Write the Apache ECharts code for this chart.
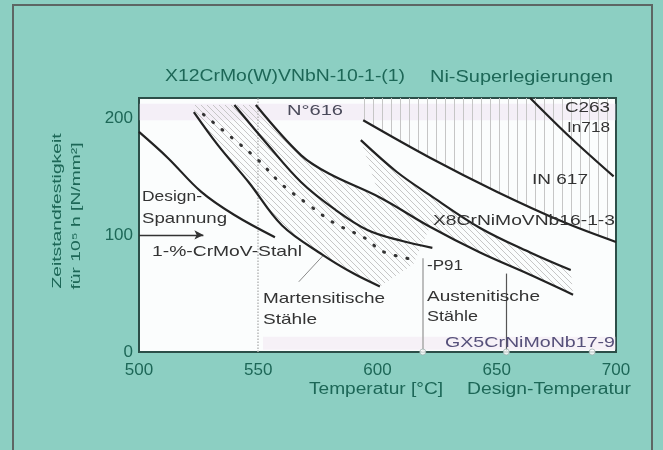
<!DOCTYPE html>
<html>
<head>
<meta charset="utf-8">
<script src="https://cdn.jsdelivr.net/npm/echarts@6/dist/echarts.min.js"></script>
<title>Zeitstandfestigkeit</title>
<style>
  html, body { margin: 0; padding: 0; background: #8ccfc2; }
  #main { width: 663px; height: 450px; }
</style>
</head>
<body>
<div id="main"></div>
<script type="text/javascript">
// Kurven [Temperatur °C, Zeitstandfestigkeit N/mm²]
var designSpannung = [[500, 188], [512, 166], [526, 137], [540, 117], [557, 98]];
var martUnten = [[523, 205], [533, 177], [546, 145], [560, 108], [577, 83], [590, 67], [601, 56]];
var p91 = [[527, 203], [539, 183], [550, 164], [560, 143], [571, 126], [582, 110], [595, 97], [602, 86], [615, 79]];
var martOben = [[540, 211], [554, 177], [568, 145], [582, 122], [596, 104], [610, 95], [623, 89]];
var nf616 = [[549, 211], [568, 168], [580, 152], [601, 132], [622, 107], [643, 85], [664, 66], [682, 49]];
var austOben = [[593, 181], [608, 154], [622, 134], [643, 106], [664, 85], [681, 70]];
var x8CrNi = [[594, 198], [622, 166], [650, 137], [678, 111], [700, 94]];
var c263 = [[664, 217], [681, 183], [699, 150]];

var designArrow = [[500, 100], [527, 100]];
var refLines = [550, 619, 654];
var refTops = [217, 80, 67];
var axisMarks = [619, 654, 690];
var leaderMart = [[567, 60], [577, 82]];

var xTicks = [500, 550, 600, 650, 700];
var yTicks = [0, 100, 200];
var yTop = 217;

var FONT = '"Liberation Sans", Arial, sans-serif';
var TEAL = '#1d6757';
var INK = '#333333';
var LINE = '#222222';

var mctx = document.createElement('canvas').getContext('2d');
function measure(s, size) {
  mctx.font = size + 'px ' + FONT;
  return mctx.measureText(s).width;
}
function label(s, x, y, size, color, width, rot) {
  var sx = width ? width / measure(s, size) : 1;
  return {
    type: 'text', x: x, y: y, rotation: rot || 0, scaleX: sx, z: 50, silent: true,
    style: { text: s, fill: color, font: size + 'px ' + FONT, align: rot ? 'center' : 'left', verticalAlign: 'middle' }
  };
}

function hatch(kind) {
  var c = document.createElement('canvas');
  var n = kind === 'v' ? 9 : 6;
  c.width = n; c.height = n;
  var g = c.getContext('2d');
  g.strokeStyle = '#c6c6c6';
  g.lineWidth = 1;
  g.beginPath();
  if (kind === 'v') {
    g.moveTo(4.5, 0); g.lineTo(4.5, n);
  } else {
    [-n, 0, n].forEach(function (k) { g.moveTo(k, 0); g.lineTo(k + n, n); });
  }
  g.stroke();
  return { image: c, repeat: 'repeat' };
}

function band(upper, lower, fill) {
  return {
    type: 'custom', silent: true, z: 1, clip: true,
    data: [0],
    renderItem: function (params, api) {
      var pts = upper.map(function (p) { return api.coord(p); })
        .concat(lower.slice().reverse().map(function (p) { return api.coord(p); }));
      return { type: 'polygon', shape: { points: pts }, style: { fill: fill } };
    }
  };
}

function curve(data, dotted) {
  return {
    type: 'line', data: data, smooth: 0.35, symbol: 'none', silent: true, z: 5,
    lineStyle: dotted
      ? { color: '#333', width: 3, type: [1, 11], cap: 'round' }
      : { color: LINE, width: 2.2 }
  };
}

var martBandUpper = [[523, 211], [549, 211]].concat(nf616.slice(1, 5));
var martBandLower = martUnten.concat([[615, 75]]);
var austBandLower = nf616.slice(3);
var niBandUpper = [[594, yTop], [700, yTop]];

var myChart = echarts.init(document.getElementById('main'));
myChart.setOption({
  backgroundColor: '#8ccfc2',
  animation: false,
  grid: {
    left: 139, right: 47, top: 98, bottom: 98, show: true,
    backgroundColor: '#fbfdfd', borderColor: '#2c4e48', borderWidth: 2
  },
  xAxis: {
    type: 'value', min: xTicks[0], max: xTicks[xTicks.length - 1], interval: 50,
    axisLine: { show: false }, axisTick: { show: false }, splitLine: { show: false },
    axisLabel: { color: TEAL, fontSize: 17, fontFamily: FONT, margin: 10 }
  },
  yAxis: {
    type: 'value', min: yTicks[0], max: yTop, interval: 100,
    axisLine: { show: false }, axisTick: { show: false }, splitLine: { show: false },
    axisLabel: {
      color: TEAL, fontSize: 17, fontFamily: FONT, margin: 6,
      formatter: function (v) { return yTicks.indexOf(v) >= 0 ? v : ''; }
    }
  },
  series: [
    // Hintergrundbänder
    {
      type: 'line', data: [], silent: true,
      markArea: {
        silent: true,
        itemStyle: { color: 'rgba(228,208,234,0.3)' },
        data: [
          [{ coord: [500, 198] }, { coord: [700, 212] }],
          [{ coord: [552, 2] }, { coord: [700, 13], itemStyle: { color: 'rgba(236,216,236,0.3)' } }]
        ]
      }
    },
    band(martBandUpper, martBandLower, hatch('d')),
    band(austOben, austBandLower, hatch('d')),
    band(niBandUpper, x8CrNi, hatch('v')),
    // Referenzlinien
    {
      type: 'line', data: [], silent: true,
      markLine: {
        silent: true, symbol: 'none', label: { show: false },
        data: [
          [{ coord: [refLines[0], 0], lineStyle: { color: '#b8b8b8', type: 'dotted', width: 1.5 } }, { coord: [refLines[0], refTops[0]] }],
          [{ coord: [refLines[1], 0], lineStyle: { color: '#a8a8a8', type: 'solid', width: 1.5 } }, { coord: [refLines[1], refTops[1]] }],
          [{ coord: [refLines[2], 0], lineStyle: { color: '#555', type: 'solid', width: 1.2 } }, { coord: [refLines[2], refTops[2]] }],
          [{ coord: leaderMart[0], lineStyle: { color: '#8a8a8a', type: 'solid', width: 1 } }, { coord: leaderMart[1] }]
        ]
      }
    },
    {
      type: 'line', data: [], silent: true,
      markLine: {
        silent: true, symbol: ['none', 'arrow'], symbolSize: [7, 9], label: { show: false },
        lineStyle: { color: '#333', type: 'solid', width: 1.4 },
        data: [[{ coord: designArrow[0] }, { coord: designArrow[1] }]]
      }
    },
    curve(designSpannung),
    curve(martUnten),
    curve(p91, true),
    curve(martOben),
    curve(nf616),
    curve(austOben),
    curve(x8CrNi),
    curve(c263),
    {
      type: 'scatter', silent: true, z: 6,
      data: axisMarks.map(function (t) { return [t, 0]; }),
      symbol: 'circle', symbolSize: 6,
      itemStyle: { color: '#ffffff', borderColor: '#9fb3b0', borderWidth: 1 }
    }
  ],
  graphic: [
    { type: 'rect', silent: true, z: 60, shape: { x: 13, y: 5, width: 639, height: 470 }, style: { fill: 'none', stroke: '#5d6664', lineWidth: 2 } },
    label('X12CrMo(W)VNbN-10-1-(1)', 165, 77, 16, TEAL, 240),
    label('Ni-Superlegierungen', 430, 78, 16, TEAL, 183),
    label('Temperatur [°C]', 309, 390, 16, TEAL, 134),
    label('Design-Temperatur', 467, 390, 16, TEAL, 164),
    label('Zeitstandfestigkeit', 57, 211, 13, TEAL, 155, Math.PI / 2),
    label('für 10⁵ h [N/mm²]', 76, 216, 13, TEAL, 147, Math.PI / 2),
    label('Design-', 142, 197, 15, INK, 60),
    label('Spannung', 142, 219, 15, INK, 85),
    label('1-%-CrMoV-Stahl', 152, 252, 15, INK, 150),
    label('Martensitische', 263, 299, 15, INK, 122),
    label('Stähle', 263, 320, 15, INK, 54),
    label('N°616', 287, 111, 15, '#4a4a5a', 56),
    label('-P91', 427, 266, 15, INK, 36),
    label('Austenitische', 427, 297, 15, INK, 113),
    label('Stähle', 427, 317, 15, INK, 51),
    label('GX5CrNiMoNb17-9', 445, 343, 15, '#56507a', 170),
    label('X8CrNiMoVNb16-1-3', 433, 221, 15, INK, 182),
    label('IN 617', 532, 180, 15, INK, 56),
    label('C263', 565, 108, 15, INK, 45),
    label('In718', 567, 128, 15, INK, 43)
  ]
});
</script>
</body>
</html>
